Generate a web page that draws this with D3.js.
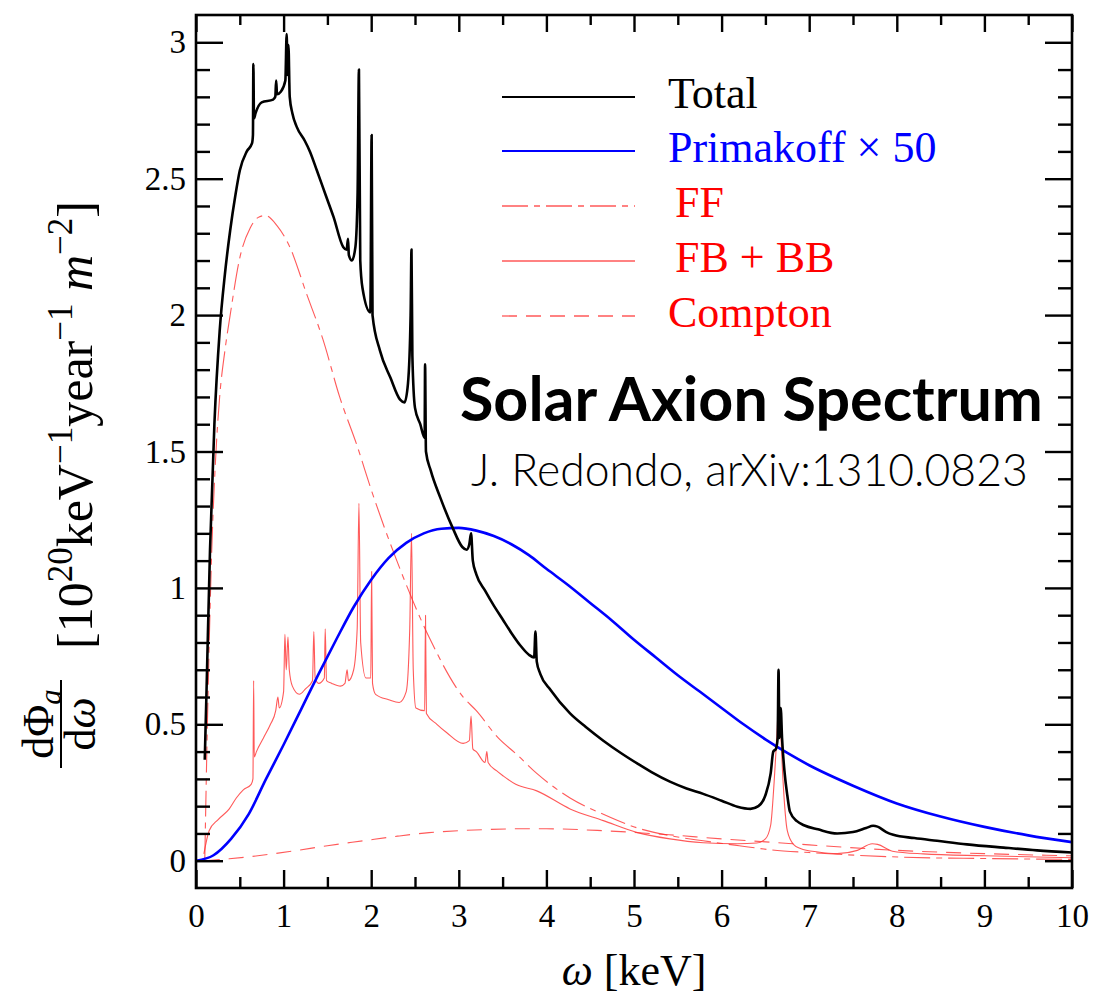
<!DOCTYPE html>
<html>
<head>
<meta charset="utf-8">
<script src="https://cdn.jsdelivr.net/npm/d3@7/dist/d3.min.js"></script>
<style>
  body { margin: 0; background: #fff; }
  svg { display: block; }
</style>
</head>
<body>
<div id="chart"></div>
<script>
// values: [omega keV, dPhi/domega in 1e20 keV^-1 year^-1 m^-2]
const total = [
  [0.10,0.37],[0.12,0.62],[0.16,1.14],[0.21,1.60],[0.27,1.94],[0.33,2.15],[0.39,2.31],[0.45,2.44],
  [0.50,2.53],[0.58,2.60],[0.64,2.63],[0.650,2.66],[0.655,2.92],[0.662,2.72],[0.68,2.74],[0.75,2.78],
  [0.88,2.79],[0.905,2.80],[0.915,2.86],[0.925,2.81],[0.97,2.82],[1.02,2.86],[1.035,3.03],[1.045,2.88],
  [1.055,2.99],[1.07,2.80],[1.10,2.74],[1.15,2.69],[1.24,2.64],[1.30,2.60],[1.38,2.53],[1.48,2.44],
  [1.57,2.36],[1.68,2.25],[1.72,2.24],[1.735,2.28],[1.745,2.22],[1.78,2.20],[1.82,2.25],[1.845,2.45],
  [1.86,2.90],[1.875,2.20],[1.90,2.10],[1.99,2.01],[2.005,2.66],[2.015,2.00],[2.10,1.87],[2.22,1.77],
  [2.33,1.69],[2.38,1.68],[2.42,1.75],[2.45,2.00],[2.46,2.24],[2.47,1.85],[2.50,1.66],[2.56,1.60],
  [2.61,1.55],[2.615,1.82],[2.625,1.50],[2.68,1.43],[2.79,1.33],[2.93,1.22],[3.04,1.15],[3.09,1.14],
  [3.12,1.16],[3.14,1.20],[3.16,1.10],[3.20,1.05],[3.30,0.99],[3.40,0.935],[3.50,0.885],[3.60,0.835],
  [3.70,0.79],[3.80,0.755],[3.86,0.745],[3.875,0.84],[3.89,0.73],[3.93,0.685],[4.05,0.625],[4.27,0.54],
  [4.45,0.49],[4.65,0.44],[4.85,0.395],[5.04,0.356],[5.20,0.325],[5.41,0.29],[5.60,0.265],[5.79,0.245],
  [6.00,0.22],[6.18,0.198],[6.33,0.19],[6.42,0.20],[6.50,0.24],[6.56,0.32],[6.59,0.40],[6.62,0.41],
  [6.64,0.45],[6.65,0.70],[6.66,0.45],[6.675,0.56],[6.69,0.45],[6.72,0.32],[6.75,0.24],[6.78,0.18],
  [6.86,0.145],[6.94,0.13],[7.10,0.115],[7.32,0.10],[7.50,0.105],[7.65,0.12],[7.73,0.128],[7.78,0.125],
  [7.88,0.105],[7.96,0.095],[8.20,0.083],[8.46,0.073],[8.80,0.06],[9.22,0.048],[9.60,0.038],[10.0,0.03]
];
const primakoff50 = [
  [0.0,0.0],[0.2,0.02],[0.4,0.08],[0.6,0.17],[0.8,0.30],[1.0,0.425],[1.2,0.555],[1.4,0.685],
  [1.6,0.81],[1.8,0.93],[2.0,1.03],[2.2,1.11],[2.4,1.165],[2.6,1.20],[2.8,1.217],[3.0,1.22],
  [3.2,1.21],[3.4,1.19],[3.6,1.16],[3.8,1.12],[4.0,1.07],[4.25,1.01],[4.5,0.945],[4.75,0.88],
  [5.0,0.81],[5.25,0.745],[5.5,0.68],[5.75,0.62],[6.0,0.56],[6.25,0.50],[6.5,0.445],[6.75,0.395],
  [7.0,0.35],[7.5,0.275],[8.0,0.21],[8.5,0.162],[9.0,0.124],[9.5,0.093],[10.0,0.068]
];
const ff = [
  [0.10,0.0],[0.13,0.50],[0.18,1.14],[0.22,1.45],[0.27,1.70],[0.33,1.87],[0.39,2.00],[0.50,2.21],
  [0.62,2.32],[0.72,2.36],[0.79,2.365],[0.92,2.33],[1.07,2.25],[1.26,2.08],[1.45,1.91],[1.64,1.70],
  [1.84,1.52],[2.00,1.36],[2.28,1.11],[2.66,0.82],[3.05,0.60],[3.20,0.55],[3.45,0.45],[3.66,0.39],
  [3.89,0.32],[4.27,0.23],[4.65,0.17],[5.04,0.12],[5.41,0.092],[5.79,0.073],[6.20,0.055],[6.56,0.04],
  [7.00,0.03],[8.07,0.013],[9.00,0.008],[10.0,0.005]
];
const fbbb = [
  [0.09,0.025],[0.15,0.11],[0.25,0.15],[0.38,0.19],[0.46,0.23],[0.54,0.26],[0.63,0.28],[0.650,0.30],
  [0.658,0.66],[0.665,0.38],[0.69,0.40],[0.77,0.45],[0.85,0.50],[0.91,0.55],[0.935,0.60],[0.95,0.56],
  [1.00,0.62],[1.015,0.83],[1.03,0.70],[1.05,0.82],[1.065,0.70],[1.10,0.64],[1.18,0.61],[1.25,0.63],
  [1.33,0.66],[1.345,0.84],[1.36,0.67],[1.40,0.65],[1.465,0.67],[1.475,0.85],[1.49,0.66],[1.55,0.65],
  [1.65,0.64],[1.70,0.65],[1.725,0.70],[1.74,0.66],[1.80,0.70],[1.84,0.85],[1.86,1.31],[1.88,0.80],
  [1.94,0.67],[1.995,0.67],[2.005,1.06],[2.015,0.65],[2.05,0.61],[2.20,0.59],[2.32,0.58],[2.40,0.62],
  [2.44,0.85],[2.46,1.20],[2.48,0.70],[2.51,0.56],[2.61,0.55],[2.62,0.90],[2.63,0.54],[2.75,0.50],
  [2.86,0.47],[3.05,0.43],[3.12,0.44],[3.14,0.53],[3.16,0.41],[3.20,0.40],[3.30,0.36],[3.32,0.40],
  [3.335,0.36],[3.43,0.33],[3.51,0.31],[3.65,0.28],[3.89,0.256],[4.27,0.19],[4.65,0.147],[5.04,0.103],
  [5.41,0.08],[5.79,0.066],[6.18,0.062],[6.40,0.065],[6.50,0.08],[6.56,0.13],[6.60,0.29],[6.63,0.45],
  [6.65,0.57],[6.67,0.50],[6.70,0.30],[6.75,0.11],[6.82,0.06],[6.90,0.045],[7.10,0.032],[7.32,0.026],
  [7.55,0.038],[7.72,0.062],[7.78,0.06],[7.95,0.035],[8.30,0.025],[9.00,0.018],[10.0,0.011]
];
const compton = [
  [0.10,0.0],[0.38,0.007],[0.75,0.02],[1.14,0.037],[1.50,0.055],[1.91,0.073],[2.30,0.09],[2.66,0.103],
  [3.00,0.11],[3.30,0.114],[3.65,0.117],[4.00,0.117],[4.65,0.11],[5.40,0.095],[6.00,0.08],[6.56,0.068],
  [7.00,0.058],[8.07,0.037],[9.00,0.026],[10.0,0.018]
];

const legendLabels = ["Total", "Primakoff × 50", "FF", "FB + BB", "Compton"];
const xTicks = d3.range(0, 11, 1);
const xMinor = d3.range(0.5, 10, 1);
const yTicks = [0, 0.5, 1, 1.5, 2, 2.5, 3];
const yMinor = d3.range(1, 31).filter(i => i % 5 != 0).map(i => i / 10);

const width = 1107, height = 995;
const frame = {left: 196, right: 1072, top: 15, bottom: 888};
const serif = "'Liberation Serif', 'Times New Roman', serif";
const red = "#ff3030";

const svg = d3.select("#chart").append("svg")
  .attr("width", width)
  .attr("height", height);
svg.append("rect").attr("width", width).attr("height", height).attr("fill", "#fff");

const x = d3.scaleLinear().domain([0, 10]).range([frame.left, frame.right]);
const y = d3.scaleLinear().domain([-0.1, 3.1]).range([frame.bottom, frame.top]);

svg.append("clipPath").attr("id", "clip")
  .append("rect")
    .attr("x", frame.left).attr("y", frame.top)
    .attr("width", frame.right - frame.left).attr("height", frame.bottom - frame.top);

const line = d3.line()
  .x(d => x(d[0]))
  .y(d => y(d[1]))
  .curve(d3.curveMonotoneX);

const series = [
  {data: ff, color: red, width: 1.1, dash: "26,6,6,6", opacity: 0.8},
  {data: compton, color: red, width: 1.1, dash: "15,9", opacity: 0.8},
  {data: fbbb, color: red, width: 1.1, dash: null, opacity: 0.8},
  {data: primakoff50, color: "#0000ff", width: 2.6, dash: null, opacity: 1},
  {data: total, color: "#000", width: 2.6, dash: null, opacity: 1}
];

const curves = svg.append("g").attr("clip-path", "url(#clip)");
series.forEach(s => {
  curves.append("path")
    .datum(s.data)
    .attr("d", line)
    .attr("fill", "none")
    .attr("stroke", s.color)
    .attr("stroke-width", s.width)
    .attr("stroke-opacity", s.opacity)
    .attr("stroke-dasharray", s.dash)
    .attr("stroke-linejoin", "round");
});

// axes, ticks point inward on all four sides
function styleAxis(g) {
  g.select(".domain").remove();
  g.selectAll(".tick line").attr("stroke", "#000").attr("stroke-width", 2.4);
  g.selectAll(".tick text").attr("fill", "#000").attr("font-family", serif).attr("font-size", 33);
}

svg.append("g")
  .attr("transform", `translate(0, ${frame.bottom})`)
  .call(d3.axisBottom(x).tickValues(xTicks).tickSize(-18).tickPadding(16).tickFormat(d3.format("d")))
  .call(styleAxis);
svg.append("g")
  .attr("transform", `translate(0, ${frame.bottom})`)
  .call(d3.axisBottom(x).tickValues(xMinor).tickSize(-11).tickFormat(""))
  .call(styleAxis);
svg.append("g")
  .attr("transform", `translate(0, ${frame.top})`)
  .call(d3.axisTop(x).tickValues(xTicks).tickSize(-17).tickFormat(""))
  .call(styleAxis);
svg.append("g")
  .attr("transform", `translate(0, ${frame.top})`)
  .call(d3.axisTop(x).tickValues(xMinor).tickSize(-10).tickFormat(""))
  .call(styleAxis);

svg.append("g")
  .attr("transform", `translate(${frame.left}, 0)`)
  .call(d3.axisLeft(y).tickValues(yTicks).tickSize(-27).tickPadding(10).tickFormat(d => d))
  .call(styleAxis);
svg.append("g")
  .attr("transform", `translate(${frame.left}, 0)`)
  .call(d3.axisLeft(y).tickValues(yMinor).tickSize(-14).tickFormat(""))
  .call(styleAxis);
svg.append("g")
  .attr("transform", `translate(${frame.right}, 0)`)
  .call(d3.axisRight(y).tickValues(yTicks).tickSize(-27).tickFormat(""))
  .call(styleAxis);
svg.append("g")
  .attr("transform", `translate(${frame.right}, 0)`)
  .call(d3.axisRight(y).tickValues(yMinor).tickSize(-14).tickFormat(""))
  .call(styleAxis);

svg.append("rect")
  .attr("x", frame.left).attr("y", frame.top)
  .attr("width", frame.right - frame.left).attr("height", frame.bottom - frame.top)
  .attr("fill", "none").attr("stroke", "#000").attr("stroke-width", 2.6);

// x axis title
const xTitle = svg.append("text")
  .attr("x", (frame.left + frame.right) / 2)
  .attr("y", 985)
  .attr("text-anchor", "middle")
  .attr("font-family", serif)
  .attr("font-size", 44);
xTitle.append("tspan").attr("font-style", "italic").text("ω");
xTitle.append("tspan").text(" [keV]");

// y axis title: fraction plus units, rotated
const frac = svg.append("g")
  .attr("transform", "translate(61, 724) rotate(-90)")
  .attr("font-family", serif)
  .attr("font-size", 44);
const num = frac.append("text").attr("x", 0).attr("y", -8).attr("text-anchor", "middle");
num.append("tspan").text("dΦ");
num.append("tspan").attr("font-style", "italic").attr("font-size", 31).attr("dy", 8).text("a");
frac.append("line")
  .attr("x1", -44).attr("x2", 44)
  .attr("stroke", "#000").attr("stroke-width", 2);
const den = frac.append("text").attr("x", 0).attr("y", 34).attr("text-anchor", "middle");
den.append("tspan").text("d");
den.append("tspan").attr("font-style", "italic").text("ω");

const units = svg.append("text")
  .attr("transform", "translate(92, 425) rotate(-90)")
  .attr("text-anchor", "middle")
  .attr("font-family", serif)
  .attr("font-size", 50);
const unitParts = [
  ["[10", 0, null], ["20", -20, null], ["keV", 20, null], ["−1", -20, null],
  ["year", 20, null], ["−1", -20, null], [" ", 20, null], ["m", 0, "italic"], ["−2", -20, null], ["]", 20, null]
];
unitParts.forEach(p => {
  const t = units.append("tspan").attr("dy", p[1]).text(p[0]);
  if (p[1] < 0) t.attr("font-size", 35);
  if (p[2]) t.attr("font-style", p[2]);
});

// legend
const legendY = [97, 151, 206, 261, 316];
const legendColors = ["#000", "#0000ff", "#ff0000", "#ff0000", "#ff0000"];
const legend = svg.append("g");
legendLabels.forEach((label, i) => {
  const s = series[[4, 3, 0, 2, 1][i]];
  legend.append("line")
    .attr("x1", 502).attr("x2", 635)
    .attr("y1", legendY[i]).attr("y2", legendY[i])
    .attr("stroke", s.color)
    .attr("stroke-width", i < 2 ? 2.2 : 1.3)
    .attr("stroke-opacity", s.opacity)
    .attr("stroke-dasharray", s.dash);
  legend.append("text")
    .attr("x", i >= 2 && i <= 3 ? 675 : 668)
    .attr("y", legendY[i] + 11)
    .attr("font-family", serif)
    .attr("font-size", 44)
    .attr("fill", legendColors[i])
    .text(label);
});

// annotation
function fitText(sel, target) {
  const w = sel.node().getComputedTextLength();
  const fs = +sel.attr("font-size");
  sel.attr("font-size", fs * target / w);
}
const title = svg.append("text")
  .attr("x", 460).attr("y", 421)
  .attr("font-family", "Lato, 'Open Sans', sans-serif")
  .attr("font-weight", 700)
  .attr("font-size", 56)
  .attr("fill", "#000")
  .text("Solar Axion Spectrum");
fitText(title, 583);
const credit = svg.append("text")
  .attr("x", 471).attr("y", 486)
  .attr("font-family", "Lato, 'Open Sans', sans-serif")
  .attr("font-weight", 300)
  .attr("font-size", 36)
  .attr("fill", "#000")
  .text("J. Redondo, arXiv:1310.0823");
fitText(credit, 557);
</script>
</body>
</html>
